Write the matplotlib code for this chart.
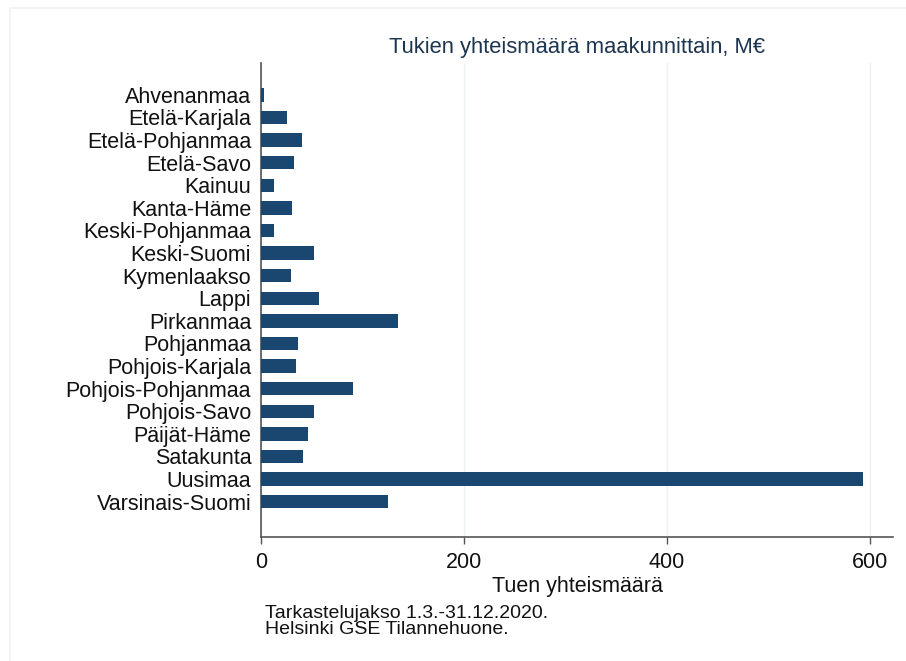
import matplotlib.pyplot as plt
import numpy as np

# Data (M€)
regions = ['Ahvenanmaa', 'Etelä-Karjala', 'Etelä-Pohjanmaa', 'Etelä-Savo',
           'Kainuu', 'Kanta-Häme', 'Keski-Pohjanmaa', 'Keski-Suomi',
           'Kymenlaakso', 'Lappi', 'Pirkanmaa', 'Pohjanmaa',
           'Pohjois-Karjala', 'Pohjois-Pohjanmaa', 'Pohjois-Savo',
           'Päijät-Häme', 'Satakunta', 'Uusimaa', 'Varsinais-Suomi']
totals = [3, 26, 40, 33, 13, 31, 13, 52, 30, 57, 135, 37, 35, 91, 52, 46, 41, 593, 125]
xticks = [0, 200, 400, 600]

plt.rcParams['font.family'] = ['Liberation Sans', 'DejaVu Sans']

fig = plt.figure(figsize=(9.06, 6.61), dpi=100)
ax = fig.add_axes([0.288, 0.188, 0.698, 0.717])

# faint frame around graph region
fig.patches.append(plt.Rectangle((10/906, -0.01), 1.0, 1 - 8/661 + 0.01,
                                 transform=fig.transFigure, fill=False,
                                 edgecolor='#edf2f4', linewidth=1.2))

y = np.arange(len(regions))
ax.barh(y, totals, height=0.6, color='#1a476f', zorder=3)

ax.set_ylim(len(regions) - 1 + 1.55, -1.42)
ax.set_xlim(0, 623)
ax.set_yticks(y)
ax.set_yticklabels(regions, fontsize=15.5, color='#111111')
ax.set_xticks(xticks)
ax.set_xticklabels([str(t) for t in xticks], fontsize=15.5, color='#111111')
ax.tick_params(axis='y', length=0, pad=7)
ax.tick_params(axis='x', length=5, width=1, color='#555555', pad=6)

ax.grid(axis='x', color='#eaf2f3', linewidth=1, zorder=0)
for s in ['top', 'right']:
    ax.spines[s].set_visible(False)
for s in ['left', 'bottom']:
    ax.spines[s].set_color('#555555')
    ax.spines[s].set_linewidth(1.2)

ax.set_xlabel('Tuen yhteismäärä', fontsize=15.5, color='#111111', labelpad=2)
ax.set_title('Tukien yhteismäärä maakunnittain, M€', fontsize=15.8,
             color='#1e3550', pad=7)

fig.text(265/906, 1 - 613/661, 'Tarkastelujakso 1.3.-31.12.2020.', fontsize=14,
         color='#111111', va='center')
fig.text(265/906, 1 - 629/661, 'Helsinki GSE Tilannehuone.', fontsize=14,
         color='#111111', va='center')

fig.savefig('out.png', dpi=100)
